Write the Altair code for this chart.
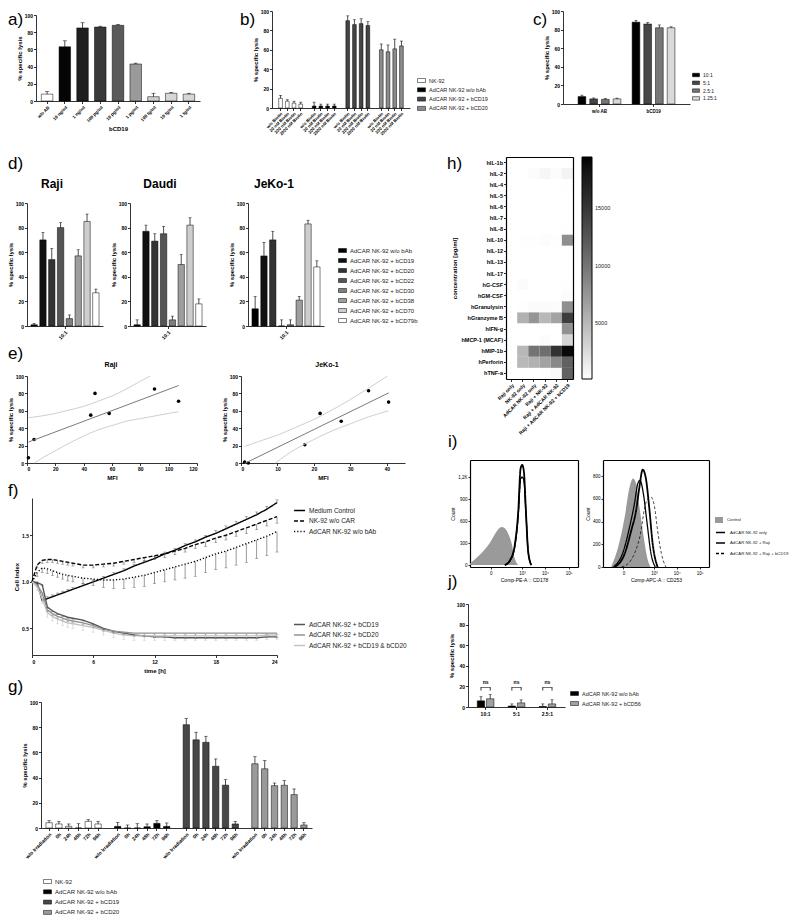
import altair as alt
import pandas as pd

FONT = "Liberation Sans"
W, H = 784, 907
M = 8


def px(v):
    return v - M


def py(v):
    return v - M


# ------------------------------------------------------------------ data
A_CATS = ["w/o AB", "10 ng/ml", "1 ng/ml", "100 pg/ml", "10 pg/ml", "1 pg/ml",
          "100 fg/ml", "10 fg/ml", "1 fg/ml"]
A_VAL = [8, 63, 85, 86, 88, 43, 5, 9, 8]
A_ERR = [3, 7, 6, 1, 1, 1, 4, 1, 1]
A_FILL = ["#ffffff", "#050505", "#1f1f1f", "#3a3a3a", "#5a5a5a", "#9a9a9a",
          "#cfcfcf", "#d6d6d6", "#d6d6d6"]

B_GROUPS = ["NK-92", "AdCAR NK-92 w/o bAb", "AdCAR NK-92 + bCD19", "AdCAR NK-92 + bCD20"]
B_COND = ["w/o Biotin", "20 nM Biotin", "200 nM Biotin", "2000 nM Biotin"]
B_VAL = [[10, 7, 5, 4], [2, 2, 2, 2], [90, 86, 87, 85], [60, 58, 61, 64]]
B_ERR = [[3, 1.5, 2, 2], [4, 2, 2, 2], [5, 5, 5, 4], [6, 7, 10, 5]]
B_FILL = ["#ffffff", "#000000", "#444444", "#8c8c8c"]

C_GROUPS = ["w/o AB", "bCD19"]
C_RATIOS = ["10:1", "5:1", "2.5:1", "1.25:1"]
C_VAL = [[8, 5.5, 5, 5.5], [88, 86, 82, 82]]
C_ERR = [[1.5, 1, 1, 0.8], [2, 1.5, 3, 1]]
C_FILL = ["#000000", "#474747", "#777777", "#d9d9d9"]

D_ITEMS = ["AdCAR NK-92 w/o bAb", "AdCAR NK-92 + bCD19", "AdCAR NK-92 + bCD20",
           "AdCAR NK-92 + bCD22", "AdCAR NK-92 + bCD30", "AdCAR NK-92 + bCD38",
           "AdCAR NK-92 + bCD70", "AdCAR NK-92 + bCD79b"]
D_FILL = ["#000000", "#111111", "#333333", "#555555", "#7f7f7f", "#9e9e9e", "#cdcdcd", "#ffffff"]
D_LINES = ["Raji", "Daudi", "JeKo-1"]
D_VAL = {"Raji": [1, 70, 54, 80, 6, 57, 85, 27],
         "Daudi": [1, 77, 69, 75, 5, 50, 82, 18],
         "JeKo-1": [14, 57, 70, 0, 1, 21, 83, 48]}
D_ERR = {"Raji": [1, 6, 9, 4, 3, 5, 6, 3],
         "Daudi": [4, 5, 6, 6, 3, 8, 6, 4],
         "JeKo-1": [10, 11, 7, 5, 4, 3, 3, 5]}
D_RATIO = ["10:1"]

E_RAJI_MFI = [1, 5, 45, 48, 58, 90, 107]
E_RAJI_LYS = [6, 27, 55, 80, 57, 85, 71]
E_JEKO_MFI = [1, 2, 17.5, 21.7, 27.5, 35, 40.5]
E_JEKO_LYS = [1, 0, 21, 57, 48, 83, 70]
E_RAJI_UP_X = [1, 10, 20, 30, 40, 50, 60, 70, 80, 87]
E_RAJI_UP_Y = [52, 54, 57, 61, 65, 71, 77, 85, 94, 100]
E_RAJI_LO_X = [5, 10, 20, 30, 40, 50, 60, 70, 80, 90, 100, 107]
E_RAJI_LO_Y = [0, 5, 14, 23, 31, 38, 43, 48, 51, 54, 57, 59]
E_JEKO_UP_X = [1, 5, 10, 15, 20, 25, 30, 35, 40.2]
E_JEKO_UP_Y = [19, 25, 32, 41, 50, 61, 73, 86, 100]
E_JEKO_LO_X = [9.4, 15, 20, 25, 30, 35, 40.5]
E_JEKO_LO_Y = [0, 16, 27, 37, 45, 53, 60]

F_T = [0, 0.5, 1, 1.5, 2, 2.5, 3, 3.5, 4, 5, 6, 7, 8, 9, 10, 11, 12, 13, 14, 15,
       16, 17, 18, 19, 20, 21, 22, 23, 24]
F_UP = ["Medium Control", "NK-92 w/o CAR", "AdCAR NK-92 w/o bAb"]
F_LO = ["AdCAR NK-92 + bCD19", "AdCAR NK-92 + bCD20", "AdCAR NK-92 + bCD19 & bCD20"]
F_VAL = {
    "Medium Control": [1.00, 0.99, 0.80, 0.82, 0.84, 0.86, 0.88, 0.90, 0.92, 0.96, 1.00, 1.04,
                       1.08, 1.12, 1.17, 1.21, 1.25, 1.30, 1.34, 1.39, 1.43, 1.48, 1.52, 1.57,
                       1.62, 1.67, 1.72, 1.78, 1.85],
    "NK-92 w/o CAR": [1.00, 1.18, 1.23, 1.24, 1.24, 1.23, 1.22, 1.21, 1.20, 1.18, 1.18, 1.19,
                      1.20, 1.22, 1.24, 1.26, 1.28, 1.30, 1.33, 1.36, 1.40, 1.43, 1.47, 1.50,
                      1.54, 1.58, 1.62, 1.66, 1.70],
    "AdCAR NK-92 w/o bAb": [1.00, 1.10, 1.15, 1.14, 1.12, 1.10, 1.08, 1.07, 1.06, 1.04, 1.03,
                            1.02, 1.02, 1.03, 1.05, 1.07, 1.10, 1.13, 1.16, 1.19, 1.22, 1.26,
                            1.30, 1.33, 1.37, 1.41, 1.45, 1.49, 1.54],
    "AdCAR NK-92 + bCD19": [1.00, 0.99, 0.97, 0.73, 0.69, 0.66, 0.64, 0.62, 0.61, 0.59, 0.55,
                            0.50, 0.47, 0.45, 0.43, 0.42, 0.41, 0.41, 0.40, 0.40, 0.40, 0.40,
                            0.40, 0.40, 0.40, 0.40, 0.40, 0.41, 0.41],
    "AdCAR NK-92 + bCD20": [1.00, 0.97, 0.88, 0.70, 0.66, 0.63, 0.61, 0.59, 0.58, 0.56, 0.53,
                            0.49, 0.47, 0.46, 0.45, 0.45, 0.45, 0.45, 0.45, 0.45, 0.45, 0.45,
                            0.45, 0.45, 0.45, 0.45, 0.45, 0.45, 0.45],
    "AdCAR NK-92 + bCD19 & bCD20": [1.00, 0.95, 0.82, 0.67, 0.63, 0.60, 0.58, 0.56, 0.55, 0.53,
                                    0.51, 0.48, 0.45, 0.43, 0.42, 0.42, 0.42, 0.42, 0.42, 0.42,
                                    0.42, 0.42, 0.42, 0.42, 0.42, 0.42, 0.42, 0.43, 0.43],
}
F_ERR = {
    "Medium Control": [0, 0.01, 0.02, 0.02, 0.02, 0.02, 0.02, 0.02, 0.02, 0.02, 0.02, 0.02,
                       0.02, 0.02, 0.02, 0.02, 0.02, 0.02, 0.02, 0.02, 0.02, 0.02, 0.03, 0.03,
                       0.03, 0.03, 0.03, 0.03, 0.03],
    "NK-92 w/o CAR": [0, 0.03, 0.03, 0.03, 0.03, 0.03, 0.03, 0.03, 0.03, 0.03, 0.03, 0.03,
                      0.03, 0.03, 0.03, 0.04, 0.04, 0.04, 0.04, 0.04, 0.04, 0.05, 0.05, 0.05,
                      0.05, 0.06, 0.06, 0.06, 0.07],
    "AdCAR NK-92 w/o bAb": [0, 0.04, 0.05, 0.05, 0.05, 0.05, 0.05, 0.06, 0.06, 0.06, 0.07,
                            0.08, 0.09, 0.10, 0.11, 0.12, 0.12, 0.13, 0.14, 0.15, 0.16, 0.16,
                            0.17, 0.18, 0.19, 0.20, 0.20, 0.21, 0.22],
    "AdCAR NK-92 + bCD19": [0, 0.01, 0.01, 0.01, 0.01, 0.01, 0.01, 0.01, 0.01, 0.01, 0.01,
                            0.01, 0.01, 0.01, 0.01, 0.01, 0.01, 0.01, 0.01, 0.01, 0.01, 0.01,
                            0.01, 0.01, 0.01, 0.01, 0.01, 0.01, 0.01],
    "AdCAR NK-92 + bCD20": [0, 0.02, 0.02, 0.02, 0.02, 0.02, 0.02, 0.02, 0.02, 0.02, 0.02,
                            0.02, 0.02, 0.02, 0.02, 0.02, 0.02, 0.02, 0.02, 0.02, 0.02, 0.02,
                            0.02, 0.02, 0.02, 0.02, 0.02, 0.02, 0.02],
    "AdCAR NK-92 + bCD19 & bCD20": [0, 0.04, 0.05, 0.05, 0.05, 0.05, 0.05, 0.05, 0.05, 0.05,
                                    0.05, 0.05, 0.05, 0.05, 0.05, 0.05, 0.05, 0.05, 0.05, 0.05,
                                    0.05, 0.05, 0.05, 0.05, 0.05, 0.05, 0.05, 0.05, 0.05],
}
F_DIR = {"Medium Control": 1, "NK-92 w/o CAR": -1, "AdCAR NK-92 w/o bAb": -1,
         "AdCAR NK-92 + bCD19": -1, "AdCAR NK-92 + bCD20": -1,
         "AdCAR NK-92 + bCD19 & bCD20": -1}

G_GROUPS = ["NK-92", "AdCAR NK-92 w/o bAb", "AdCAR NK-92 + bCD19", "AdCAR NK-92 + bCD20"]
G_TIMES = ["w/o Irradiation", "0h", "24h", "48h", "72h", "96h"]
G_VAL = [[4.2, 3.2, 1.3, 0, 5.3, 3.2], [1.3, 0, 0, 1, 3.7, 1.3],
         [82, 70, 68, 49, 34, 3.2], [51, 47, 33.6, 33.9, 26.5, 2.4]]
G_ERR = [[1.6, 2.1, 1.9, 3.4, 1.3, 2.1], [3.2, 2.4, 3.4, 2.2, 2.1, 2.7],
         [4.8, 6, 4.8, 5.8, 4.4, 2.1], [5.6, 6.4, 2.1, 3.7, 4.5, 1.8]]
G_FILL = ["#ffffff", "#000000", "#474747", "#9a9a9a"]

H_ROWS = ["hIL-1b", "hIL-2", "hIL-4", "hIL-5", "hIL-6", "hIL-7", "hIL-8", "hIL-10", "hIL-12",
          "hIL-13", "hIL-17", "hG-CSF", "hGM-CSF", "hGranulysin", "hGranzyme B", "hIFN-g",
          "hMCP-1 (MCAF)", "hMIP-1b", "hPerforin", "hTNF-a"]
H_COLS = ["Raji only", "NK-92 only", "AdCAR NK-92 only", "Raji + NK-92",
          "Raji + AdCAR NK-92", "Raji + AdCAR NK-92 + bCD19"]
H_VALS = [
    [0, 0, 0, 0, 0, 0],
    [0, 0, 300, 700, 300, 900],
    [0, 0, 0, 0, 0, 200],
    [0, 0, 0, 0, 0, 0],
    [0, 0, 0, 0, 0, 0],
    [0, 0, 0, 0, 0, 0],
    [0, 0, 0, 0, 0, 200],
    [0, 200, 200, 300, 200, 8000],
    [0, 0, 0, 0, 0, 0],
    [0, 0, 0, 0, 0, 0],
    [0, 0, 0, 0, 0, 0],
    [0, 400, 0, 0, 0, 200],
    [0, 0, 0, 0, 0, 300],
    [0, 200, 400, 400, 300, 8000],
    [0, 5500, 7500, 5000, 6500, 14500],
    [0, 0, 0, 0, 100, 7800],
    [0, 0, 0, 300, 0, 3000],
    [0, 5000, 10000, 10500, 15500, 19000],
    [0, 5000, 5500, 6500, 8500, 11500],
    [0, 0, 0, 200, 500, 11500],
]

I_LINES = ["AdCAR NK-92 only", "AdCAR NK-92 + Raji", "AdCAR NK-92 + Raji + bCD19"]
I1_CTRL_X = [-330, -100, -5, 37, 92, 147, 222, 330, 470, 680]
I1_CTRL_C = [20, 136, 300, 455, 520, 500, 430, 300, 90, 0]
I1_X = [147, 280, 470, 680, 870, 1030, 1220, 1500, 1880, 2570]
I1_C = {"AdCAR NK-92 only": [0, 68, 273, 727, 1318, 1364, 1273, 727, 182, 0],
        "AdCAR NK-92 + Raji": [0, 60, 250, 680, 1180, 1200, 1150, 700, 180, 0],
        "AdCAR NK-92 + Raji + bCD19": [0, 55, 240, 660, 1150, 1190, 1160, 720, 200, 0]}
I2_CTRL_X = [-120, -34, 7, 43, 80, 128, 197, 345, 520, 700]
I2_CTRL_C = [0, 176, 440, 705, 779, 735, 529, 235, 59, 0]
I2_X = {"AdCAR NK-92 only": [-67, 7, 60, 128, 197, 290, 420, 600, 870, 1450],
        "AdCAR NK-92 + Raji": [-85, -1.5, 43, 100, 160, 210, 315, 460, 730, 1150],
        "AdCAR NK-92 + Raji + bCD19": [-11, 29, 100, 242, 345, 470, 730, 1060, 1450, 2150, 3350]}
I2_C = {"AdCAR NK-92 only": [0, 118, 324, 500, 705, 858, 779, 529, 206, 0],
        "AdCAR NK-92 + Raji": [0, 132, 353, 558, 735, 764, 647, 412, 118, 0],
        "AdCAR NK-92 + Raji + bCD19": [0, 29, 118, 324, 500, 588, 617, 529, 324, 118, 0]}

J_GROUPS = ["10:1", "5:1", "2.5:1"]
J_ITEMS = ["AdCAR NK-92 w/o bAb", "AdCAR NK-92 + bCD56"]
J_VAL = [[6, 1, 0.5], [8, 4, 3]]
J_ERR = [[4, 2, 2.5], [4, 3, 4]]
J_FILL = ["#000000", "#a0a0a0"]
J_BRACKET = [16, 19]
J_NS = 24

TAGS = ["a)", "b)", "c)", "d)", "h)", "e)", "f)", "i)", "j)", "g)"]
TAG_POS = [(8, 12), (240, 12), (533, 12), (8, 156), (447, 156), (8, 346), (8, 483),
           (448, 434), (448, 574), (8, 679)]
SUBTITLES = ["Raji", "Daudi", "JeKo-1", "Raji", "JeKo-1"]
SUB_POS = [(52, 184, 12), (160, 184, 12), (274, 184, 12), (111, 365, 7), (327, 365, 7)]


# ------------------------------------------------------------------ helpers
def _ax(**kw):
    d = dict(grid=False, labelFont=FONT, titleFont=FONT, labelFontWeight="bold",
             titleFontWeight="bold", labelColor="black", titleColor="black",
             domainColor="black", tickColor="black", domainWidth=0.8, tickWidth=0.8,
             tickSize=2.5, labelPadding=1, minExtent=0, labelFontSize=5,
             titleFontSize=6, titlePadding=2)
    d.update(kw)
    return alt.Axis(**d)


def yax(at, title=None, **kw):
    return _ax(orient="left", offset=-px(at), title=title, **kw)


def xax(at, title=None, **kw):
    return _ax(orient="bottom", offset=py(at) - H, title=title, **kw)


def frame_top(at):
    return alt.Axis(orient="top", offset=-py(at), labels=False, ticks=False, title=None,
                    grid=False, domainColor="black", domainWidth=1.2, zindex=1)


def frame_right(at):
    return alt.Axis(orient="right", offset=px(at) - W, labels=False, ticks=False, title=None,
                    grid=False, domainColor="black", domainWidth=1.2, zindex=1)


RECT = "M-1,-0.5H1V0.5H-1Z"


def leg(x, y, **kw):
    d = dict(orient="none", legendX=px(x), legendY=py(y), title=None, labelFont=FONT,
             labelFontSize=5.5, labelColor="#222222", padding=0, offset=0, labelOffset=3,
             rowPadding=1.5, symbolType=RECT, symbolSize=64, symbolStrokeColor="black",
             symbolStrokeWidth=0.5, symbolOpacity=1)
    d.update(kw)
    return alt.Legend(**d)


def bar_block(df, xf, xs, xa, ys, ya, cf, cs, cl, of=None, os=None, cap=3.0):
    off_main = {"xOffset": alt.XOffset(f"{of}:N", scale=os)} if of else {}
    off = {"xOffset": alt.XOffset(f"{of}:N")} if of else {}
    bars = alt.Chart(df).mark_bar(stroke="black", strokeWidth=0.5).encode(
        x=alt.X(f"{xf}:N", scale=xs, axis=xa),
        y=alt.Y("val:Q", scale=ys, axis=ya),
        color=alt.Color(f"{cf}:N", scale=cs, legend=cl), **off_main)
    rule = alt.Chart(df).mark_rule(color="black", strokeWidth=0.7).encode(
        x=alt.X(f"{xf}:N", axis=xa), y=alt.Y("val:Q", axis=ya), y2="top:Q", **off)
    capm = alt.Chart(df).mark_tick(color="black", orient="horizontal", size=cap,
                                   thickness=0.7).encode(
        x=alt.X(f"{xf}:N", axis=xa), y=alt.Y("top:Q", axis=ya), **off)
    return alt.layer(bars, rule, capm)


Y100 = [0, 20, 40, 60, 80, 100]
LBL = "indexof(datum.value, '|') < 0 ? '' : split(datum.value, '|')[1]"
GAPTICK = {"condition": {"test": "indexof(datum.value, '|') < 0", "value": "transparent"},
           "value": "black"}

layers = []

# ------------------------------------------------------------------ a
df_a = pd.DataFrame({"cat": A_CATS, "val": A_VAL, "err": A_ERR})
df_a["top"] = df_a["val"] + df_a["err"]
layers.append(bar_block(
    df_a, "cat",
    alt.Scale(domain=A_CATS, range=[px(36), px(200)], paddingInner=0.35, paddingOuter=0.3),
    xax(101, "bCD19", labelAngle=-45, labelFontSize=4.5, titlePadding=3),
    alt.Scale(domain=[0, 100], range=[py(101), py(15)], nice=False),
    yax(36, "% specific lysis", values=Y100),
    "cat", alt.Scale(domain=A_CATS, range=A_FILL), None, cap=4))


# ------------------------------------------------------------------ b / g (grouped with gaps)
def gapped(groups, conds, vals, errs):
    keys, rows = [], []
    for gi, g in enumerate(groups):
        if gi:
            keys.append(f"gap{gi}")
        for ci, c in enumerate(conds):
            k = f"{g}|{c}"
            keys.append(k)
            rows.append(dict(key=k, grp=g, val=vals[gi][ci], top=vals[gi][ci] + errs[gi][ci]))
    return keys, pd.DataFrame(rows)


b_keys, df_b = gapped(B_GROUPS, B_COND, B_VAL, B_ERR)
layers.append(bar_block(
    df_b, "key",
    alt.Scale(domain=b_keys, range=[px(272), px(410)], paddingInner=0.45, paddingOuter=1.0),
    xax(108, None, labelAngle=-45, labelExpr=LBL, tickColor=GAPTICK, labelFontSize=4.3),
    alt.Scale(domain=[0, 100], range=[py(108), py(11)], nice=False),
    yax(272, "% specific lysis", values=Y100),
    "grp", alt.Scale(domain=B_GROUPS, range=B_FILL), leg(417, 76, rowPadding=1.3), cap=3))

# ------------------------------------------------------------------ c
rows = []
for gi, g in enumerate(C_GROUPS):
    for ri, r in enumerate(C_RATIOS):
        rows.append(dict(grp=g, ratio=r, val=C_VAL[gi][ri], top=C_VAL[gi][ri] + C_ERR[gi][ri]))
df_c = pd.DataFrame(rows)
layers.append(bar_block(
    df_c, "grp",
    alt.Scale(domain=C_GROUPS, range=[px(563), px(690)], paddingInner=0.13, paddingOuter=0.24),
    xax(104, None, labelFontSize=4.5, labelAngle=0, labelPadding=2),
    alt.Scale(domain=[0, 100], range=[py(104), py(11)], nice=False),
    yax(563, "% specific lysis", values=Y100),
    "ratio", alt.Scale(domain=C_RATIOS, range=C_FILL),
    leg(692, 71, symbolSize=49, rowPadding=0.8, labelFontSize=5),
    of="ratio", os=alt.Scale(domain=C_RATIOS, paddingInner=0.34, paddingOuter=0.18), cap=3))

# ------------------------------------------------------------------ d
for li, (line, axx) in enumerate(zip(D_LINES, [27, 130, 248])):
    df_d = pd.DataFrame({"ratio": D_RATIO * len(D_ITEMS), "item": D_ITEMS,
                         "val": D_VAL[line],
                         "top": [v + e for v, e in zip(D_VAL[line], D_ERR[line])]})
    layers.append(bar_block(
        df_d, "ratio",
        alt.Scale(domain=D_RATIO, range=[px(axx), px(axx + 76)], paddingInner=0, paddingOuter=0),
        xax(326, None, labelAngle=-45, labelFontSize=5),
        alt.Scale(domain=[0, 100], range=[py(326), py(203)], nice=False),
        yax(axx, "% specific lysis", values=Y100),
        "item", alt.Scale(domain=D_ITEMS, range=D_FILL),
        leg(338, 246, rowPadding=2, labelFontSize=6) if li == 0 else None,
        of="item", os=alt.Scale(domain=D_ITEMS, paddingInner=0.28, paddingOuter=0.45), cap=3))


# ------------------------------------------------------------------ e
def e_panel(mfi, lys, ux, uy, lx, ly, x0, x1, xmax, xvals):
    df = pd.DataFrame({"mfi": mfi, "lysis": lys})
    xs = alt.Scale(domain=[0, xmax], range=[px(x0), px(x1)], nice=False, zero=False)
    ys = alt.Scale(domain=[0, 100], range=[py(463), py(376)], nice=False)
    exa = xax(463, "MFI", values=xvals, titlePadding=3)
    eya = yax(x0, "% specific lysis", values=Y100)
    pts = alt.Chart(df).mark_circle(size=13, color="black", opacity=1).encode(
        x=alt.X("mfi:Q", scale=xs, axis=exa), y=alt.Y("lysis:Q", scale=ys, axis=eya))
    reg = alt.Chart(df).transform_regression("mfi", "lysis").mark_line(
        color="#7a7a7a", strokeWidth=1).encode(
        x=alt.X("mfi:Q", axis=exa), y=alt.Y("lysis:Q", axis=eya))
    ci = pd.DataFrame({"mfi": ux + lx, "lysis": uy + ly,
                       "b": ["upper"] * len(ux) + ["lower"] * len(lx)})
    band = alt.Chart(ci).mark_line(color="#cfcfcf", strokeWidth=1, interpolate="monotone").encode(
        x=alt.X("mfi:Q", axis=exa), y=alt.Y("lysis:Q", axis=eya), detail="b:N")
    return alt.layer(pts, band, reg)


layers.append(e_panel(E_RAJI_MFI, E_RAJI_LYS, E_RAJI_UP_X, E_RAJI_UP_Y, E_RAJI_LO_X,
                      E_RAJI_LO_Y, 27, 197, 120, [0, 20, 40, 60, 80, 100, 120]))
layers.append(e_panel(E_JEKO_MFI, E_JEKO_LYS, E_JEKO_UP_X, E_JEKO_UP_Y, E_JEKO_LO_X,
                      E_JEKO_LO_Y, 241, 405, 45, [0, 10, 20, 30, 40]))

# ------------------------------------------------------------------ f
rows = []
for s in F_UP + F_LO:
    for t, v, e in zip(F_T, F_VAL[s], F_ERR[s]):
        rows.append(dict(series=s, t=t, v=v, end=v + F_DIR[s] * e))
df_f = pd.DataFrame(rows)
fx = alt.Scale(domain=[0, 24], range=[px(32), px(277)], nice=False)
fy = alt.Scale(domain=[0.215, 1.9], range=[py(655), py(498)], nice=False, zero=False)
fxa = xax(655, "time [h]", values=[0, 6, 12, 18, 24], labelPadding=2, titlePadding=3)
fya = yax(32, "Cell Index", values=[0.5, 1.0, 1.5], format=".1f")
up_df = df_f[df_f["series"].isin(F_UP)]
lo_df = df_f[df_f["series"].isin(F_LO)]
up_leg = leg(293, 504, symbolType="stroke", symbolSize=120, symbolStrokeWidth=1.5,
             labelFontSize=6.5, rowPadding=0.5)
up_lines = alt.Chart(up_df).mark_line(strokeWidth=1.4).encode(
    x=alt.X("t:Q", scale=fx, axis=fxa),
    y=alt.Y("v:Q", scale=fy, axis=fya),
    color=alt.Color("series:N", scale=alt.Scale(domain=F_UP, range=["black", "black", "black"]),
                    legend=up_leg),
    strokeDash=alt.StrokeDash("series:N", scale=alt.Scale(domain=F_UP,
                                                           range=[[1, 0], [4, 2], [1.2, 2]]),
                              legend=up_leg))
err_up = up_df[up_df["t"] > 0]
up_rules = alt.Chart(err_up).mark_rule(color="#555555", strokeWidth=0.6).encode(
    x=alt.X("t:Q", axis=fxa), y=alt.Y("v:Q", axis=fya), y2="end:Q")
up_caps = alt.Chart(err_up).mark_tick(color="#555555", orient="horizontal", size=3,
                                      thickness=0.6).encode(
    x=alt.X("t:Q", axis=fxa), y=alt.Y("end:Q", axis=fya))
lo_leg = alt.Legend(orient="none", legendX=px(293), legendY=py(618), title=None,
                    labelFont=FONT, labelFontSize=6.5, labelColor="#222222", padding=0,
                    offset=0, labelOffset=3, rowPadding=0.5, symbolType="stroke",
                    symbolSize=120, symbolStrokeWidth=1.5)
lo_color = alt.Scale(domain=F_LO, range=["#555555", "#929292", "#c4c4c4"])
lo_lines = alt.Chart(lo_df).mark_line(strokeWidth=1.4).encode(
    x=alt.X("t:Q", axis=fxa), y=alt.Y("v:Q", axis=fya),
    color=alt.Color("series:N", scale=lo_color, legend=lo_leg))
err_lo = lo_df[lo_df["t"] > 0]
lo_rules = alt.Chart(err_lo).mark_rule(strokeWidth=0.6).encode(
    x=alt.X("t:Q", axis=fxa), y=alt.Y("v:Q", axis=fya), y2="end:Q",
    color=alt.Color("series:N", legend=None))
lo_caps = alt.Chart(err_lo).mark_tick(orient="horizontal", size=3, thickness=0.6).encode(
    x=alt.X("t:Q", axis=fxa), y=alt.Y("end:Q", axis=fya),
    color=alt.Color("series:N", legend=None))
layers.append(alt.layer(alt.layer(up_lines, up_rules, up_caps),
                        alt.layer(lo_lines, lo_rules, lo_caps))
              .resolve_scale(color="independent", strokeDash="independent")
              .resolve_legend(color="independent", strokeDash="independent"))

# ------------------------------------------------------------------ g
g_keys, df_g = gapped(G_GROUPS, G_TIMES, G_VAL, G_ERR)
layers.append(bar_block(
    df_g, "key",
    alt.Scale(domain=g_keys, range=[px(41), px(312)], paddingInner=0.35, paddingOuter=0.5),
    xax(828, None, labelAngle=-45, labelExpr=LBL, tickColor=GAPTICK, labelFontSize=5),
    alt.Scale(domain=[0, 100], range=[py(828), py(702)], nice=False),
    yax(41, "% specific lysis", values=Y100),
    "grp", alt.Scale(domain=G_GROUPS, range=G_FILL), leg(43, 877, rowPadding=2.3, labelFontSize=6),
    cap=3.5))

# ------------------------------------------------------------------ h
rows = []
for r, vals in zip(H_ROWS, H_VALS):
    for c, v in zip(H_COLS, vals):
        rows.append(dict(row=r, col=c, conc=v))
df_h = pd.DataFrame(rows)
hx = alt.Scale(domain=H_COLS, range=[px(506), px(573)], paddingInner=0, paddingOuter=0)
hy = alt.Scale(domain=H_ROWS, range=[py(157), py(379)], paddingInner=0, paddingOuter=0)
h_leg = alt.Legend(orient="none", legendX=px(582), legendY=py(157), direction="vertical",
                   gradientLength=222, gradientThickness=10, values=[5000, 10000, 15000],
                   format="d", title=None, labelFont=FONT, labelFontSize=5.5,
                   labelColor="#222222", gradientStrokeColor="black", gradientStrokeWidth=1,
                   labelOffset=3, padding=0, offset=0)
cells = alt.Chart(df_h).mark_rect().encode(
    x=alt.X("col:N", scale=hx, axis=xax(379, None, labelAngle=-45, labelFontSize=5,
                                        domainWidth=1.2)),
    y=alt.Y("row:N", scale=hy, axis=yax(506, "concentration [pg/ml]", labelFontSize=5.5,
                                        titlePadding=3, domainWidth=1.2)),
    color=alt.Color("conc:Q", scale=alt.Scale(domain=[100, 19500],
                                              range=["#ffffff", "#000000"], clamp=True),
                    legend=h_leg))
hframe = alt.Chart(df_h).mark_rect(opacity=0).encode(
    x=alt.X("col:N", axis=frame_top(157)), y=alt.Y("row:N", axis=frame_right(573)))
layers.append(alt.layer(cells, hframe))

# ------------------------------------------------------------------ i
FLOW_X_EXPR = ("datum.value == 0 ? '0' : datum.value == 1000 ? '10³' : "
               "datum.value == 10000 ? '10⁴' : '10⁵'")


def flow_panel(ctrl_x, ctrl_c, line_x, line_c, x0, x1, ydom, yvals, title, show_legend):
    xs = alt.Scale(type="symlog", constant=50, domain=[-330, 250000],
                   range=[px(x0), px(x1)], nice=False, zero=False)
    ys = alt.Scale(domain=ydom, range=[py(567), py(460)], nice=False, zero=False)
    dfc = pd.DataFrame({"x": ctrl_x, "c": ctrl_c, "s": ["Control"] * len(ctrl_x)})
    rows = []
    for s in I_LINES:
        xs_ = line_x[s] if isinstance(line_x, dict) else line_x
        for xv, cv in zip(xs_, line_c[s]):
            rows.append(dict(x=xv, c=cv, s=s))
    dfl = pd.DataFrame(rows)
    ax_kw = dict(labelFontWeight="normal", titleFontWeight="normal", labelFontSize=4.5,
                 titleFontSize=5, tickSize=2, domainWidth=1.2)
    area_leg = None
    line_leg = None
    if show_legend:
        area_leg = leg(715, 516, symbolType="M-1,-0.75H1V0.75H-1Z", symbolSize=64,
                       symbolStrokeWidth=0, labelFontSize=4.3, labelOffset=4)
        line_leg = leg(715, 527, symbolType="stroke", symbolSize=81, symbolStrokeWidth=1.3,
                       labelFontSize=4.3, rowPadding=1.5, labelOffset=4)
    area = alt.Chart(dfc).mark_area(interpolate="monotone", opacity=1).encode(
        x=alt.X("x:Q", scale=xs, axis=xax(567, title, values=[0, 1000, 10000, 100000],
                                          labelExpr=FLOW_X_EXPR, titlePadding=3, **ax_kw)),
        y=alt.Y("c:Q", scale=ys, axis=yax(x0, "Count", values=yvals,
                                          labelExpr="datum.value == 1200 ? '1,2K' : datum.label",
                                          **ax_kw)),
        color=alt.Color("s:N", scale=alt.Scale(domain=["Control"], range=["#9a9a9a"]),
                        legend=area_leg))
    lines = alt.Chart(dfl).mark_line(interpolate="monotone").encode(
        x=alt.X("x:Q", axis=None), y=alt.Y("c:Q", axis=None),
        color=alt.Color("s:N", scale=alt.Scale(domain=I_LINES, range=["black", "black", "black"]),
                        legend=line_leg),
        strokeDash=alt.StrokeDash("s:N", scale=alt.Scale(domain=I_LINES,
                                                          range=[[1, 0], [1, 0], [3, 2]]),
                                  legend=line_leg),
        strokeWidth=alt.StrokeWidth("s:N", scale=alt.Scale(domain=I_LINES, range=[1.8, 0.7, 1.3]),
                                    legend=None))
    frame = alt.Chart(dfl).mark_line(opacity=0).encode(
        x=alt.X("x:Q", axis=frame_top(460)), y=alt.Y("c:Q", axis=frame_right(x1)))
    return (alt.layer(area, lines, frame)
            .resolve_scale(color="independent", strokeDash="independent")
            .resolve_legend(color="independent", strokeDash="independent"))


layers.append(flow_panel(I1_CTRL_X, I1_CTRL_C, I1_X, I1_C, 470, 578, [-27, 1432],
                         [0, 300, 600, 900, 1200], "Comp-PE-A :: CD178", False))
layers.append(flow_panel(I2_CTRL_X, I2_CTRL_C, I2_X, I2_C, 603, 709, [0, 943],
                         [0, 200, 400, 600, 800], "Comp-APC-A :: CD253", True))

# ------------------------------------------------------------------ j
rows = []
for ii, it in enumerate(J_ITEMS):
    for gi, g in enumerate(J_GROUPS):
        rows.append(dict(grp=g, item=it, val=J_VAL[ii][gi], top=J_VAL[ii][gi] + J_ERR[ii][gi]))
df_j = pd.DataFrame(rows)
jx = alt.Scale(domain=J_GROUPS, range=[px(468), px(565)], paddingInner=0.4, paddingOuter=0.27)
jy = alt.Scale(domain=[0, 100], range=[py(707), py(604)], nice=False)
jxa = xax(707, None, labelFontSize=5, labelAngle=0, labelPadding=2)
jya = yax(468, "% specific lysis", values=Y100)
j_bars = bar_block(df_j, "grp", jx, jxa, jy, jya,
                   "item", alt.Scale(domain=J_ITEMS, range=J_FILL),
                   leg(570, 689, rowPadding=2, labelFontSize=5.5),
                   of="item", os=alt.Scale(domain=J_ITEMS, paddingInner=0.2, paddingOuter=0.1),
                   cap=3)
df_jb = pd.DataFrame([dict(grp=g, item=it, lo=J_BRACKET[0], hi=J_BRACKET[1])
                      for g in J_GROUPS for it in J_ITEMS])
j_legs = alt.Chart(df_jb).mark_rule(color="black", strokeWidth=0.8).encode(
    x=alt.X("grp:N", axis=jxa), xOffset=alt.XOffset("item:N"),
    y=alt.Y("lo:Q", axis=jya), y2="hi:Q")
df_jt = pd.DataFrame({"grp": J_GROUPS, "hi": [J_BRACKET[1]] * 3, "ns": ["ns"] * 3,
                      "nsy": [J_NS] * 3})
j_top = alt.Chart(df_jt).mark_tick(color="black", orient="horizontal", size=10,
                                   thickness=0.8).encode(
    x=alt.X("grp:N", axis=jxa), y=alt.Y("hi:Q", axis=jya))
j_ns = alt.Chart(df_jt).mark_text(font=FONT, fontSize=5, fontWeight="bold", color="black").encode(
    x=alt.X("grp:N", axis=jxa), y=alt.Y("nsy:Q", axis=jya), text="ns:N")
layers.append(alt.layer(j_bars, j_legs, j_top, j_ns))

# ------------------------------------------------------------------ annotations
for tag, (tx, ty) in zip(TAGS, TAG_POS):
    layers.append(alt.Chart(pd.DataFrame({"t": [tag]})).mark_text(
        align="left", baseline="top", font=FONT, fontSize=17, color="black").encode(
        text="t:N", x=alt.value(px(tx)), y=alt.value(py(ty))))
for sub, (sx, sy, sz) in zip(SUBTITLES, SUB_POS):
    layers.append(alt.Chart(pd.DataFrame({"t": [sub]})).mark_text(
        align="center", baseline="middle", font=FONT, fontSize=sz, fontWeight="bold",
        color="black").encode(text="t:N", x=alt.value(px(sx)), y=alt.value(py(sy))))

chart = (alt.layer(*layers)
         .resolve_scale(x="independent", y="independent", color="independent",
                        xOffset="independent", strokeDash="independent",
                        strokeWidth="independent")
         .resolve_axis(x="independent", y="independent")
         .resolve_legend(color="independent", strokeDash="independent",
                         strokeWidth="independent")
         .properties(width=W, height=H, padding=0,
                     autosize=alt.AutoSizeParams(type="none"))
         .configure_view(stroke="transparent"))

chart.save("out.html", embed_options={"renderer": "svg", "actions": False})
